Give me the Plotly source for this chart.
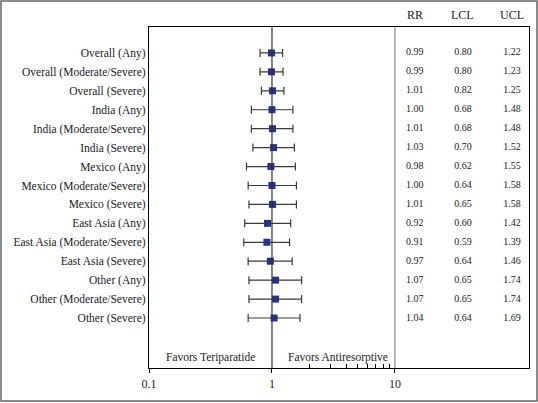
import math
import plotly.graph_objects as go

categories = ["Overall (Any)", "Overall (Moderate/Severe)", "Overall (Severe)",
              "India (Any)", "India (Moderate/Severe)", "India (Severe)",
              "Mexico (Any)", "Mexico (Moderate/Severe)", "Mexico (Severe)",
              "East Asia (Any)", "East Asia (Moderate/Severe)", "East Asia (Severe)",
              "Other (Any)", "Other (Moderate/Severe)", "Other (Severe)"]
rr = [0.99, 0.99, 1.01, 1.00, 1.01, 1.03, 0.98, 1.00, 1.01, 0.92, 0.91, 0.97, 1.07, 1.07, 1.04]
lcl = [0.80, 0.80, 0.82, 0.68, 0.68, 0.70, 0.62, 0.64, 0.65, 0.60, 0.59, 0.64, 0.65, 0.65, 0.64]
ucl = [1.22, 1.23, 1.25, 1.48, 1.48, 1.52, 1.55, 1.58, 1.58, 1.42, 1.39, 1.46, 1.74, 1.74, 1.69]
col_headers = ["RR", "LCL", "UCL"]
col_x = [14.5, 35.7, 89.3]
tick_vals = [0.1, 1, 10]
tick_text = ["0.1", "1", "10"]
favor_labels = ["Favors Teriparatide", "Favors Antiresorptive"]
favor_x = [0.316, 3.45]

SERIF = "Liberation Serif"
ys = list(range(len(categories)))

fig = go.Figure()
fig.add_trace(go.Scatter(
    x=rr, y=ys, mode="markers",
    marker=dict(symbol="square", size=7, color="#27318a"),
    error_x=dict(type="data", symmetric=False,
                 array=[u - r for u, r in zip(ucl, rr)],
                 arrayminus=[r - l for r, l in zip(rr, lcl)],
                 color="#3a3a3a", thickness=1.2, width=4),
    showlegend=False, hoverinfo="skip"))

for cx, vals in zip(col_x, [rr, lcl, ucl]):
    fig.add_trace(go.Scatter(
        x=[cx] * len(vals), y=ys, mode="text",
        text=[f"{v:.2f}" for v in vals],
        textfont=dict(family=SERIF, size=10, color="#222"),
        showlegend=False, hoverinfo="skip", cliponaxis=False))

for cx, h in zip(col_x, col_headers):
    fig.add_annotation(x=math.log10(cx), y=1.035, xref="x", yref="paper", text=h,
                       yanchor="middle", showarrow=False,
                       font=dict(family=SERIF, size=12, color="#222"))

for fx, t in zip(favor_x, favor_labels):
    fig.add_annotation(x=math.log10(fx), y=16.1, xref="x", yref="y", text=t, showarrow=False,
                       font=dict(family=SERIF, size=11.5, color="#222"))

fig.add_shape(type="line", xref="x", yref="paper", x0=1, x1=1, y0=0, y1=1,
              line=dict(color="#333", width=1.2))
fig.add_shape(type="line", xref="x", yref="paper", x0=10, x1=10, y0=0, y1=1,
              line=dict(color="#888", width=1.2))
fig.add_shape(type="rect", xref="paper", yref="paper",
              x0=-0.3895, x1=1.021, y0=-0.0968, y1=1.076,
              line=dict(color="#666", width=1.5))

fig.update_xaxes(type="log", range=[-1, 2.09], showgrid=False, zeroline=False,
                 showline=True, linecolor="black", linewidth=1.2, mirror=True,
                 tickvals=tick_vals, ticktext=tick_text, ticks="outside", ticklen=4,
                 tickcolor="black", automargin=False,
                 minor=dict(ticks="inside", ticklen=4, tickcolor="black", showgrid=False,
                            tickvals=[2, 3, 4, 5, 6, 7, 8, 9]),
                 tickfont=dict(family=SERIF, size=12, color="#222"))
fig.update_yaxes(range=[16.64, -1.37], showgrid=False, zeroline=False,
                 showline=True, linecolor="black", linewidth=1.2, mirror=True,
                 tickvals=ys, ticktext=categories, ticks="", automargin=False,
                 tickfont=dict(family=SERIF, size=11.5, color="#222"))

fig.update_layout(width=538, height=403, margin=dict(l=149, r=9, t=27, b=35),
                  paper_bgcolor="white", plot_bgcolor="white",
                  font=dict(family=SERIF))
fig.write_html("out.html", config={"displayModeBar": False},
               post_script="document.body.style.margin='0';")
